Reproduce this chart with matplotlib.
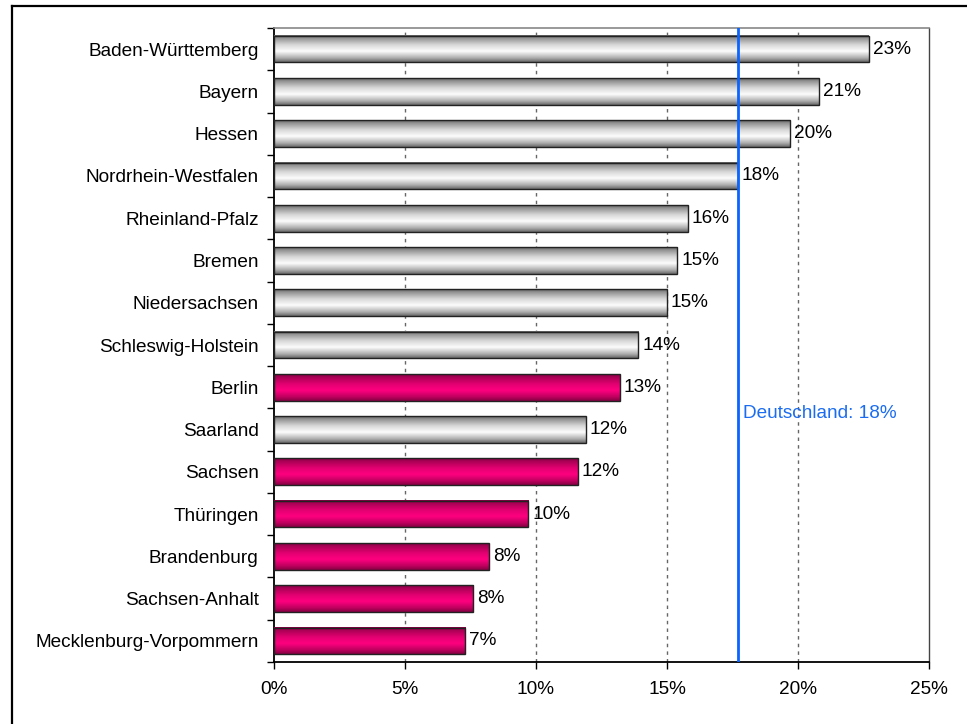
import numpy as np
import matplotlib.pyplot as plt
from matplotlib.lines import Line2D

plt.rcParams['font.family'] = ['Liberation Sans', 'DejaVu Sans']

laender = ['Baden-Württemberg', 'Bayern', 'Hessen', 'Nordrhein-Westfalen',
           'Rheinland-Pfalz', 'Bremen', 'Niedersachsen', 'Schleswig-Holstein',
           'Berlin', 'Saarland', 'Sachsen', 'Thüringen', 'Brandenburg',
           'Sachsen-Anhalt', 'Mecklenburg-Vorpommern']
werte = [22.7, 20.8, 19.7, 17.7, 15.8, 15.4, 15.0, 13.9,
         13.2, 11.9, 11.6, 9.7, 8.2, 7.6, 7.3]
labels = ['23%', '21%', '20%', '18%', '16%', '15%', '15%', '14%',
          '13%', '12%', '12%', '10%', '8%', '8%', '7%']
ost = [0, 0, 0, 0, 0, 0, 0, 0, 1, 0, 1, 1, 1, 1, 1]
deutschland = 17.7
xticks = [0, 5, 10, 15, 20, 25]

FS = 13.7

# vertical shading profile for the "cylinder" look
t = np.linspace(0, 1, 64)
prof = np.interp(t, [0, 0.1, 0.35, 0.6, 0.85, 1], [0.0, 0.3, 0.75, 1.0, 0.5, 0.05])
grey_lo, grey_hi = np.array([0.38, 0.38, 0.38]), np.array([0.99, 0.99, 0.99])
mag_lo, mag_hi = np.array([0.5, 0.0, 0.25]), np.array([1.0, 0.0, 0.5])
grad_grey = (grey_lo + prof[:, None] * (grey_hi - grey_lo))[:, None, :]
grad_mag = (mag_lo + prof[:, None] * (mag_hi - mag_lo))[:, None, :]

fig = plt.figure(figsize=(9.67, 7.24), dpi=100)
ax = fig.add_axes([274/967, 1-662/724, (929-274)/967, (662-28)/724])

y = np.arange(len(laender))
bars = ax.barh(y, werte, height=0.63, facecolor='none', edgecolor='#222222',
               linewidth=1.0, zorder=4)
for b, o in zip(bars, ost):
    x0, y0, w, h = b.get_x(), b.get_y(), b.get_width(), b.get_height()
    img = grad_mag if o else grad_grey
    ax.imshow(img, extent=[x0, x0 + w, y0 + h, y0], origin='upper',
              aspect='auto', interpolation='bilinear', zorder=3)

for yi, v, lab in zip(y, werte, labels):
    ax.text(v + 0.15, yi, lab, va='center', ha='left', fontsize=FS, zorder=5)

ax.axvline(deutschland, color='#0a64ff', lw=2, zorder=5)
ax.text(deutschland + 0.2, 8.62, 'Deutschland: 18%', color='#1a6cf0',
        fontsize=FS, va='center', ha='left', zorder=5)

for gx in xticks[1:-1]:
    ax.axvline(gx, color='#666666', lw=1, ls=(0, (2.5, 3)), zorder=1)

ax.set_xlim(0, 25)
ax.set_ylim(14.5, -0.5)
ax.set_xticks(xticks)
ax.set_xticklabels([f'{v}%' for v in xticks], fontsize=FS)
ax.set_yticks(y)
ax.set_yticklabels(laender, fontsize=FS)
ax.tick_params(axis='y', length=0, pad=11)
ax.set_yticks(np.arange(-0.5, 15, 1), minor=True)
ax.tick_params(axis='y', which='minor', length=5, width=1, direction='out')
ax.tick_params(axis='x', length=5, width=1, direction='out', pad=9)

ax.spines['left'].set_linewidth(1.3)
ax.spines['bottom'].set_linewidth(1.3)
ax.spines['top'].set_color('#888888')
ax.spines['right'].set_color('#444444')
ax.spines['top'].set_linewidth(1.2)
ax.spines['right'].set_linewidth(1.0)

# outer frame (cut off at right/bottom like the reference)
fig.add_artist(Line2D([12/967, 12/967], [0, 1-6/724], color='black', lw=1.6,
                      transform=fig.transFigure))
fig.add_artist(Line2D([12/967, 1], [1-6/724, 1-6/724], color='black', lw=1.6,
                      transform=fig.transFigure))

fig.savefig('out.png', dpi=100)
